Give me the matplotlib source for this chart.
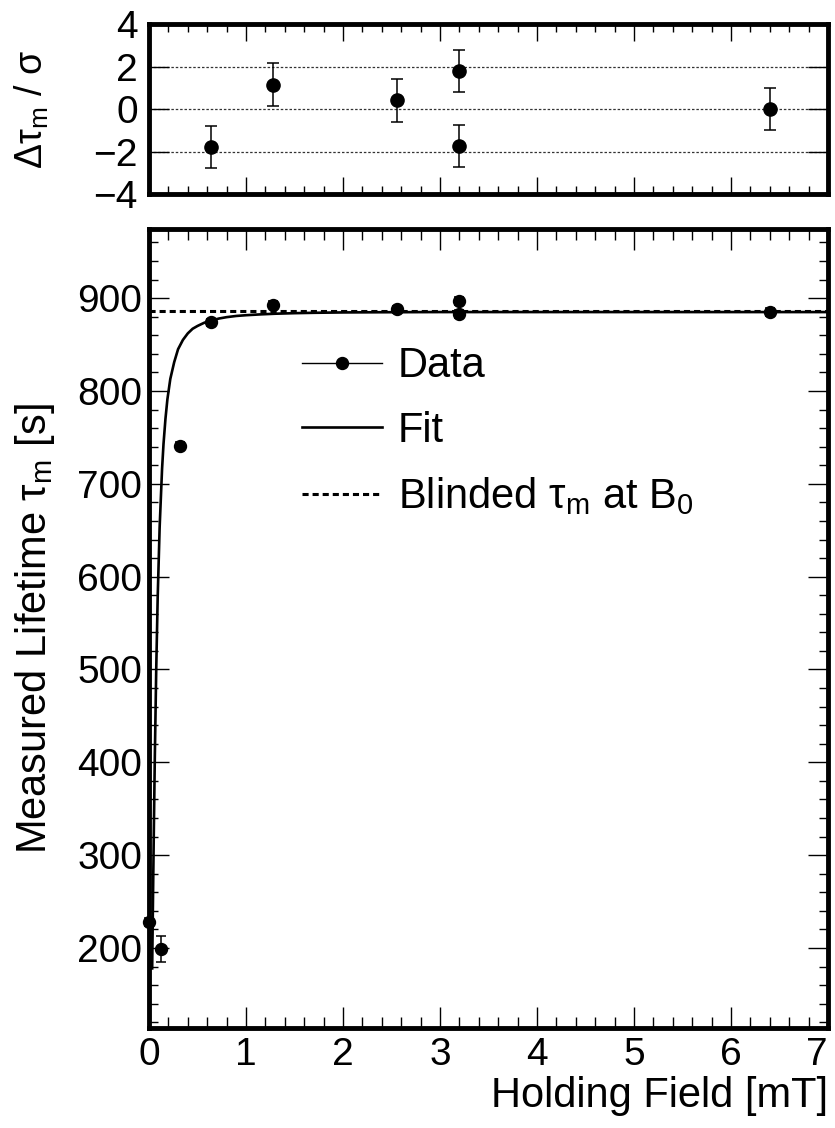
"""
Measured lifetime versus holding field, with fit and residual panel.
"""
import matplotlib

matplotlib.use("Agg")
import matplotlib.pyplot as plt
from matplotlib.lines import Line2D
from matplotlib.ticker import MultipleLocator

plt.rcParams["font.family"] = ["Liberation Sans", "DejaVu Sans"]
plt.rcParams["mathtext.fontset"] = "custom"
plt.rcParams["mathtext.rm"] = "Liberation Sans"

# measured points
field_mT = [0.0, 0.12, 0.32, 0.64, 1.28, 2.56, 3.2, 3.2, 6.4]
lifetime_s = [228, 199, 741, 874, 893, 888, 897, 883, 885]
lifetime_err = [4, 14, 4, 4, 4, 4, 4, 4, 4]

# fit curve
fit_field = [0.033, 0.04, 0.05, 0.06, 0.075, 0.09, 0.11, 0.135, 0.15, 0.17,
             0.19, 0.22, 0.26, 0.3, 0.35, 0.4, 0.45, 0.5, 0.57, 0.65, 0.72,
             0.8, 0.9, 1.0, 1.15, 1.3, 1.5, 1.7, 2.0, 2.4, 3.0, 4.0, 5.5, 7.0]
fit_lifetime = [178, 240, 325, 403, 501, 578, 653, 716, 743, 770,
                791, 813, 831, 845, 855, 862, 867, 870, 873.5, 876, 878,
                879.5, 880.8, 881.6, 882.5, 883.2, 883.8, 884.2, 884.6, 884.8,
                885, 885, 885, 885]

blinded_tau = 886

# residuals (top panel)
resid_field = [0.64, 1.28, 2.56, 3.2, 3.2, 6.4]
resid_sigma = [-1.78, 1.16, 0.42, 1.8, -1.72, 0.0]
resid_err = [1, 1, 1, 1, 1, 1]

x_ticks = [0, 1, 2, 3, 4, 5, 6, 7]

SPINE_W = 3.5
TICK_FS = 28
LABEL_FS = 30

fig = plt.figure(figsize=(8.35, 11.28), dpi=100)
ax_res = fig.add_axes([0.1784, 0.8278, 0.8132, 0.1507])
ax = fig.add_axes([0.1784, 0.0884, 0.8132, 0.7082])

# ---- residual panel ----
for y in (-2, 0, 2):
    ax_res.axhline(y, color="#333333", lw=0.9, ls=(0, (2, 1.5)), zorder=1)
ax_res.errorbar(resid_field, resid_sigma, yerr=resid_err, fmt="o", color="black",
                ms=9.5, elinewidth=1.1, capsize=4, capthick=1.1, zorder=3)
ax_res.set_xlim(0, 7)
ax_res.set_ylim(-4, 4)
ax_res.set_xticks(x_ticks)
ax_res.xaxis.set_minor_locator(MultipleLocator(0.2))
ax_res.yaxis.set_major_locator(MultipleLocator(2))
ax_res.tick_params(axis="x", which="both", direction="in", top=True, bottom=True,
                   labelbottom=False, width=1)
ax_res.tick_params(axis="x", which="major", length=12)
ax_res.tick_params(axis="x", which="minor", length=5.8)
ax_res.tick_params(axis="y", which="major", direction="in", left=True, right=True,
                   length=14.5, width=1, labelsize=TICK_FS, pad=8)
ax_res.set_ylabel("Δτ$_{\\mathregular{m}}$ / σ", fontsize=27)
ax_res.yaxis.set_label_coords(-0.144, 0.5)

# ---- main panel ----
ax.plot([0, 7], [blinded_tau, blinded_tau], color="black", lw=2.2,
        ls=(0, (2.0, 1.3)), zorder=2)
ax.plot(fit_field, fit_lifetime, color="black", lw=1.9, zorder=3)
ax.errorbar(field_mT, lifetime_s, yerr=lifetime_err, fmt="o", color="black",
            ms=8.6, elinewidth=1.1, capsize=3.5, capthick=1.1, zorder=4,
            clip_on=False)

ax.set_xlim(0, 7)
ax.set_ylim(113.5, 974)
ax.set_xticks(x_ticks, [str(t) for t in x_ticks])
ax.xaxis.set_minor_locator(MultipleLocator(0.2))
ax.yaxis.set_major_locator(MultipleLocator(100))
ax.yaxis.set_minor_locator(MultipleLocator(20))
ax.tick_params(axis="both", which="both", direction="in", top=True, right=True,
               width=1, labelsize=TICK_FS)
ax.tick_params(axis="x", which="major", length=15, pad=6)
ax.tick_params(axis="x", which="minor", length=8)
ax.tick_params(axis="y", which="major", length=14.5, pad=5)
ax.tick_params(axis="y", which="minor", length=6.5)

# keep the last x tick label inside the figure
last_tick = ax.xaxis.get_major_ticks()[len(x_ticks) - 1]
last_tick.label1.set_horizontalalignment("right")

ax.set_xlabel("Holding Field [mT]", fontsize=LABEL_FS, loc="right")
ax.xaxis.set_label_coords(1.0, -0.06)
ax.set_ylabel("Measured Lifetime τ$_{\\mathregular{m}}$ [s]", fontsize=LABEL_FS)
ax.yaxis.set_label_coords(-0.1355, 0.5)

for a in (ax, ax_res):
    for sp in a.spines.values():
        sp.set_linewidth(SPINE_W)

handles = [
    Line2D([], [], color="black", lw=1.0, marker="o", ms=8.6),
    Line2D([], [], color="black", lw=1.9),
    Line2D([], [], color="black", lw=2.2, ls=(0, (2.0, 1.3))),
]
labels = ["Data", "Fit", "Blinded τ$_{\\mathregular{m}}$ at B$_{\\mathregular{0}}$"]
ax.legend(handles, labels, loc="upper left", bbox_to_anchor=(0.2252, 0.8535),
          frameon=False, fontsize=LABEL_FS, handlelength=1.92, handletextpad=0.38,
          labelspacing=0.59, borderpad=0, borderaxespad=0, numpoints=1)

fig.savefig("out.png", dpi=100)
